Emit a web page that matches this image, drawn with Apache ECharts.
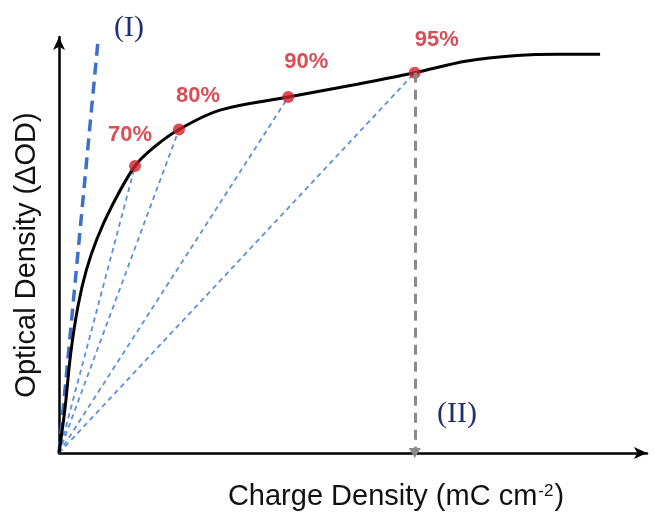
<!DOCTYPE html>
<html>
<head>
<meta charset="utf-8">
<script src="https://cdn.jsdelivr.net/npm/echarts@6/dist/echarts.min.js"></script>
<style>
    html, body { margin: 0; padding: 0; background: #fff; }
    #chart { width: 654px; height: 512px; }
</style>
</head>
<body>
<div id="chart"></div>
<script>
// schematic curve, arbitrary units
const curveX = [0, 1.0, 2.0, 3.2, 4.6, 6.4, 8.8, 12.8, 16.2, 20.2, 27.1, 38.6, 49.5, 59.9, 68.7, 77.1, 84.0, 91.1]
const curveY = [0, 10.5, 24.0, 35.0, 43.5, 51.0, 58.5, 68.3, 73.0, 77.0, 81.6, 84.7, 87.6, 90.5, 93.3, 94.6, 94.9, 94.9]

// marked points
const pointNames = ['70%', '80%', '90%', '95%']
const pointX = [12.8, 20.2, 38.6, 59.9]
const pointY = [68.3, 77.0, 84.7, 90.5]

// steep reference line (I)
const lineIX = [0, 6.6]
const lineIY = [0, 98.6]

const axisMax = 99

// label offsets from the dot centre (px)
const labelOffsets = [[-5, -31], [19, -34], [18, -35], [22, -33]]

const chart = echarts.init(document.getElementById('chart'))

const rays = pointX.map((x, i) => ({
    type: 'line',
    data: [[0, 0], [x, pointY[i]]],
    symbol: 'none',
    silent: true,
    z: 1,
    lineStyle: { color: '#5b8fdb', width: 1.8, type: [5, 4] }
}))

const axisCommon = {
    type: 'value',
    min: 0,
    max: axisMax,
    axisLine: {
        show: true,
        symbol: ['none', 'arrow'],
        symbolSize: [9, 13],
        lineStyle: { color: '#000', width: 2.5 }
    },
    axisTick: { show: false },
    axisLabel: { show: false },
    splitLine: { show: false }
}

const option = {
    animation: false,
    grid: { left: 59, right: 7, top: 37, bottom: 59 },
    xAxis: axisCommon,
    yAxis: axisCommon,
    series: [
        ...rays,
        {
            type: 'line',
            data: lineIX.map((x, i) => [x, lineIY[i]]),
            symbol: 'none',
            silent: true,
            z: 2,
            lineStyle: { color: '#3d70c8', width: 3.5, type: [12, 7] }
        },
        {
            type: 'line',
            data: [],
            markLine: {
                silent: true,
                symbol: ['none', 'triangle'],
                symbolSize: [12, 10],
                label: { show: false },
                lineStyle: { color: '#8a8a8a', width: 3, type: [10, 7] },
                data: [[{ coord: [pointX[3], pointY[3]] }, { coord: [pointX[3], 0] }]]
            }
        },
        {
            type: 'line',
            data: curveX.map((x, i) => [x, curveY[i]]),
            smooth: 0.35,
            symbol: 'none',
            silent: true,
            z: 3,
            lineStyle: { color: '#000', width: 3 }
        },
        {
            type: 'scatter',
            z: 4,
            symbolSize: 12,
            itemStyle: { color: '#d0222a' },
            data: pointX.map((x, i) => ({
                value: [x, pointY[i]],
                name: pointNames[i],
                label: { offset: labelOffsets[i] }
            })),
            label: {
                show: true,
                position: 'inside',
                formatter: p => p.name,
                color: '#d0222a',
                fontSize: 22,
                fontFamily: 'Liberation Sans',
                fontWeight: 'bold'
            }
        }
    ],
    graphic: [
        {
            type: 'text', x: 129, y: 28,
            style: { text: '(I)', fill: '#1f3170', fontSize: 30, fontFamily: 'Liberation Serif', align: 'center', verticalAlign: 'middle' }
        },
        {
            type: 'text', x: 457, y: 414,
            style: { text: '(II)', fill: '#1f3170', fontSize: 30, fontFamily: 'Liberation Serif', align: 'center', verticalAlign: 'middle' }
        },
        {
            type: 'text', x: 27, y: 255, rotation: Math.PI / 2,
            style: { text: 'Optical Density (ΔOD)', fill: '#111', fontSize: 29, fontFamily: 'Liberation Sans', align: 'center', verticalAlign: 'middle' }
        },
        {
            type: 'text', x: 396, y: 497,
            style: {
                text: 'Charge Density (mC cm{sup|-2})',
                fill: '#111', fontSize: 29, fontFamily: 'Liberation Sans', align: 'center', verticalAlign: 'middle',
                rich: { sup: { fontSize: 17, fontFamily: 'Liberation Sans', fill: '#111', verticalAlign: 'top', padding: [0, 1, 12, 1] } }
            }
        }
    ]
}

chart.setOption(option)
</script>
</body>
</html>
